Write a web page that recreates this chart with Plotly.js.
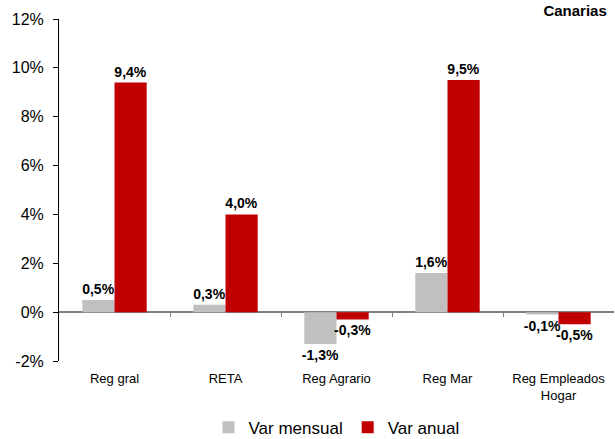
<!DOCTYPE html>
<html><head><meta charset="utf-8">
<script src="https://cdn.plot.ly/plotly-3.0.1.min.js"></script>
<style>html,body{margin:0;padding:0;background:#fff}#chart{width:615px;height:439px}</style>
</head><body><div id="chart"></div>
<script>
const categories = ["Reg gral", "RETA", "Reg Agrario", "Reg Mar", "Reg Empleados<br>Hogar"];
const varMensual = [0.5, 0.3, -1.3, 1.6, -0.1];
const varAnual = [9.4, 4.0, -0.3, 9.5, -0.5];
const yTicks = [-2, 0, 2, 4, 6, 8, 10, 12];
const yTickLabels = ["-2%", "0%", "2%", "4%", "6%", "8%", "10%", "12%"];

const fmt = v => v.toFixed(1).replace('.', ',') + '%';
const idx = categories.map((c, i) => i);

const labelFont = {family: "Liberation Sans, Arial, sans-serif", size: 14, color: "#000"};

const traces = [
  {type: "bar", name: "Var mensual", x: idx, y: varMensual, marker: {color: "#c0c0c0"},
   text: varMensual.map(v => "<b>" + fmt(v) + "</b>"), textposition: "outside", textfont: labelFont,
   constraintext: "none", cliponaxis: false, hoverinfo: "skip"},
  {type: "bar", name: "Var anual", x: idx, y: varAnual, marker: {color: "#c00000"},
   text: varAnual.map(v => "<b>" + fmt(v) + "</b>"), textposition: "outside", textfont: labelFont,
   constraintext: "none", cliponaxis: false, hoverinfo: "skip"},
  {type: "scatter", x: [0], y: [0], xaxis: "x2", yaxis: "y", showlegend: false, hoverinfo: "skip", mode: "none"}
];

const layout = {
  width: 615, height: 439,
  margin: {l: 59, r: 1, t: 19, b: 78, autoexpand: false},
  paper_bgcolor: "#fff", plot_bgcolor: "#fff",
  font: {family: "Liberation Sans, Arial, sans-serif", color: "#000"},
  barmode: "group", bargap: 0.42, bargroupgap: 0,
  title: {text: "<b>Canarias</b>", x: 0.987, xanchor: "right", xref: "paper", y: 0.975, yanchor: "middle", font: {size: 15, color: "#000"}},
  xaxis: {range: [-0.5, 4.5], tickvals: idx, ticktext: categories, showline: false, showgrid: false, zeroline: false,
          ticks: "", tickfont: {size: 13}, ticklabelstandoff: 8, automargin: false, fixedrange: true},
  xaxis2: {overlaying: "x", anchor: "free", position: 2/14, range: [-0.5, 4.5], tickvals: [0.5, 1.5, 2.5, 3.5],
           ticks: "outside", ticklen: 4, tickcolor: "#808080", tickwidth: 1, showticklabels: false, showline: false,
           showgrid: false, zeroline: false, automargin: false},
  yaxis: {range: [-2, 12], tickvals: yTicks, ticktext: yTickLabels, showline: true, linecolor: "#000", linewidth: 1,
          ticks: "outside", ticklen: 5, tickcolor: "#000", showgrid: false, zeroline: true, zerolinecolor: "#808080", zerolinewidth: 1.5,
          tickfont: {size: 16}, ticklabelstandoff: 6, automargin: false},
  showlegend: true,
  legend: {orientation: "h", x: 0.5, xanchor: "center", y: -0.195, yanchor: "middle", font: {size: 17}, traceorder: "normal",
           itemwidth: 30, tracegroupgap: 0},
  separators: ",."
};

Plotly.newPlot("chart", traces, layout, {displayModeBar: false, staticPlot: true});
</script></body></html>
